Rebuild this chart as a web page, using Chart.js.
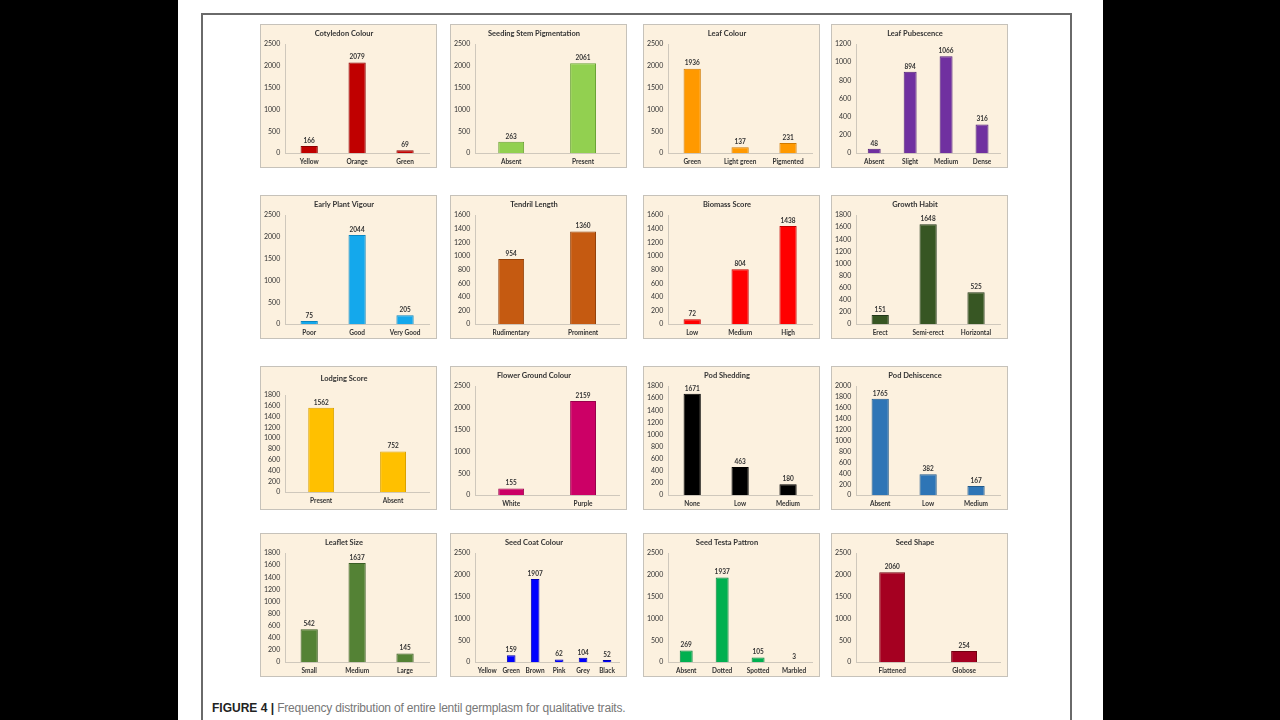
<!DOCTYPE html>
<html>
<head>
<meta charset="utf-8">
<script src="https://cdn.jsdelivr.net/npm/chart.js@4.4.1/dist/chart.umd.min.js"></script>
<style>
    body { margin: 0; background: #000; width: 1280px; height: 720px; overflow: hidden; font-family: Lato, sans-serif; }
    #page { position: absolute; left: 178px; top: 0; width: 925px; height: 720px; background: #fff; }
    #frame { position: absolute; left: 201px; top: 13px; width: 871px; height: 720px; border: 2px solid #6a6a6a; box-sizing: border-box; }
    .panel { position: absolute; width: 177px; height: 144px; background: #fcf1df; border: 1px solid #c6c2ba; box-sizing: border-box; }
    .panel canvas { display: block; }
    #caption { position: absolute; left: 212px; top: 701px; font-size: 12px; color: #777; font-family: 'Liberation Sans Narrow', 'Liberation Sans', sans-serif; white-space: nowrap; letter-spacing: -0.2px; }
    #caption b { font-family: 'Liberation Sans', sans-serif; color: #222; letter-spacing: 0; }
</style>
</head>
<body>
<div id="page"></div>
<div id="frame"></div>
<div id="caption"><b>FIGURE 4 |</b> Frequency distribution of entire lentil germplasm for qualitative traits.</div>

<script>
        // Chart data
        const cotyledonCats = ['Yellow', 'Orange', 'Green'];
        const cotyledonVals = [166, 2079, 69];
        const stemCats = ['Absent', 'Present'];
        const stemVals = [263, 2061];
        const leafColourCats = ['Green', 'Light green', 'Pigmented'];
        const leafColourVals = [1936, 137, 231];
        const pubescenceCats = ['Absent', 'Slight', 'Medium', 'Dense'];
        const pubescenceVals = [48, 894, 1066, 316];
        const vigourCats = ['Poor', 'Good', 'Very Good'];
        const vigourVals = [75, 2044, 205];
        const tendrilCats = ['Rudimentary', 'Prominent'];
        const tendrilVals = [954, 1360];
        const biomassCats = ['Low', 'Medium', 'High'];
        const biomassVals = [72, 804, 1438];
        const habitCats = ['Erect', 'Semi-erect', 'Horizontal'];
        const habitVals = [151, 1648, 525];
        const lodgingCats = ['Present', 'Absent'];
        const lodgingVals = [1562, 752];
        const flowerCats = ['White', 'Purple'];
        const flowerVals = [155, 2159];
        const sheddingCats = ['None', 'Low', 'Medium'];
        const sheddingVals = [1671, 463, 180];
        const dehiscenceCats = ['Absent', 'Low', 'Medium'];
        const dehiscenceVals = [1765, 382, 167];
        const leafletCats = ['Small', 'Medium', 'Large'];
        const leafletVals = [542, 1637, 145];
        const seedCoatCats = ['Yellow', 'Green', 'Brown', 'Pink', 'Grey', 'Black'];
        const seedCoatVals = [0, 159, 1907, 62, 104, 52];
        const testaCats = ['Absent', 'Dotted', 'Spotted', 'Marbled'];
        const testaVals = [269, 1937, 105, 3];
        const shapeCats = ['Flattened', 'Globose'];
        const shapeVals = [2060, 254];

        const titles = ['Cotyledon Colour', 'Seeding Stem Pigmentation', 'Leaf Colour', 'Leaf Pubescence',
            'Early Plant Vigour', 'Tendril Length', 'Biomass Score', 'Growth Habit',
            'Lodging Score', 'Flower Ground Colour', 'Pod Shedding', 'Pod Dehiscence',
            'Leaflet Size', 'Seed Coat Colour', 'Seed Testa Pattron', 'Seed Shape'];
        const categories = [cotyledonCats, stemCats, leafColourCats, pubescenceCats,
            vigourCats, tendrilCats, biomassCats, habitCats,
            lodgingCats, flowerCats, sheddingCats, dehiscenceCats,
            leafletCats, seedCoatCats, testaCats, shapeCats];
        const values = [cotyledonVals, stemVals, leafColourVals, pubescenceVals,
            vigourVals, tendrilVals, biomassVals, habitVals,
            lodgingVals, flowerVals, sheddingVals, dehiscenceVals,
            leafletVals, seedCoatVals, testaVals, shapeVals];
        // y axis: top tick and step
        const yMax = [2500, 2500, 2500, 1200, 2500, 1600, 1600, 1800, 1800, 2500, 1800, 2000, 1800, 2500, 2500, 2500];
        const yStep = [500, 500, 500, 200, 500, 200, 200, 200, 200, 500, 200, 200, 200, 500, 500, 500];

        const colours = ['#c00000', '#92d050', '#ff9900', '#7030a0', '#14a8ec', '#c55a11', '#ff0000', '#375623',
            '#ffc000', '#cc0066', '#000000', '#2e75b6', '#548235', '#0000ff', '#00b050', '#a50021'];
        const borders = ['#8a0000', '#6aa336', '#d07a00', '#4f1f78', '#0b86c0', '#94420b', '#c00000', '#22371a',
            '#d9a200', '#99004c', '#000000', '#215a8c', '#3b5e25', '#0000b0', '#00843c', '#70000f'];

        const colX = [260, 450, 643, 831];
        const rowY = [24, 195, 366, 533];

        // Draw the number above each bar
        const valueLabels = {
            id: 'valueLabels',
            afterDatasetsDraw(chart) {
                const ctx = chart.ctx;
                const meta = chart.getDatasetMeta(0);
                const data = chart.data.datasets[0].data;
                ctx.save();
                ctx.font = 'bold 6.5px Lato';
                ctx.fillStyle = '#333';
                ctx.textAlign = 'center';
                ctx.textBaseline = 'bottom';
                meta.data.forEach((bar, i) => {
                    if (!data[i]) return;
                    ctx.fillText(data[i], bar.x, bar.y - 2);
                });
                ctx.restore();
            }
        };

        titles.forEach((title, i) => {
            const panel = document.createElement('div');
            panel.className = 'panel';
            panel.style.left = colX[i % 4] + 'px';
            panel.style.top = rowY[Math.floor(i / 4)] + 'px';
            const canvas = document.createElement('canvas');
            canvas.width = 175;
            canvas.height = 142;
            panel.appendChild(canvas);
            document.body.appendChild(panel);

            // Lodging Score sits a bit lower and shorter in its box
            const lodging = title === 'Lodging Score';

            new Chart(canvas.getContext('2d'), {
                type: 'bar',
                data: {
                    labels: categories[i],
                    datasets: [{
                        data: values[i],
                        backgroundColor: colours[i],
                        borderColor: borders[i],
                        borderWidth: 1,
                        categoryPercentage: 1,
                        barPercentage: 0.36
                    }]
                },
                options: {
                    responsive: false,
                    animation: false,
                    layout: { padding: { left: -2, right: 7, top: lodging ? 3 : 0, bottom: lodging ? -1 : -4 } },
                    plugins: {
                        legend: { display: false },
                        tooltip: { enabled: false },
                        title: {
                            display: true,
                            text: title,
                            color: '#333',
                            font: { family: 'Lato', size: 7.5, weight: 'bold' },
                            padding: { top: 4, bottom: lodging ? 12 : 6 }
                        }
                    },
                    scales: {
                        x: {
                            grid: { display: false, drawTicks: false },
                            border: { display: true, color: '#cfc8bc' },
                            ticks: { color: '#333', font: { family: 'Lato', size: 6.5, weight: 'bold' }, maxRotation: 0, autoSkip: false, padding: 5 }
                        },
                        y: {
                            min: 0,
                            max: yMax[i],
                            grid: { display: false, drawTicks: false },
                            border: { display: true, color: '#cfc8bc' },
                            ticks: {
                                stepSize: yStep[i],
                                autoSkip: false,
                                color: '#333',
                                font: { family: 'Lato', size: 7 },
                                padding: 5,
                                callback: v => String(v)
                            }
                        }
                    }
                },
                plugins: [valueLabels]
            });
        });
</script>
</body>
</html>
